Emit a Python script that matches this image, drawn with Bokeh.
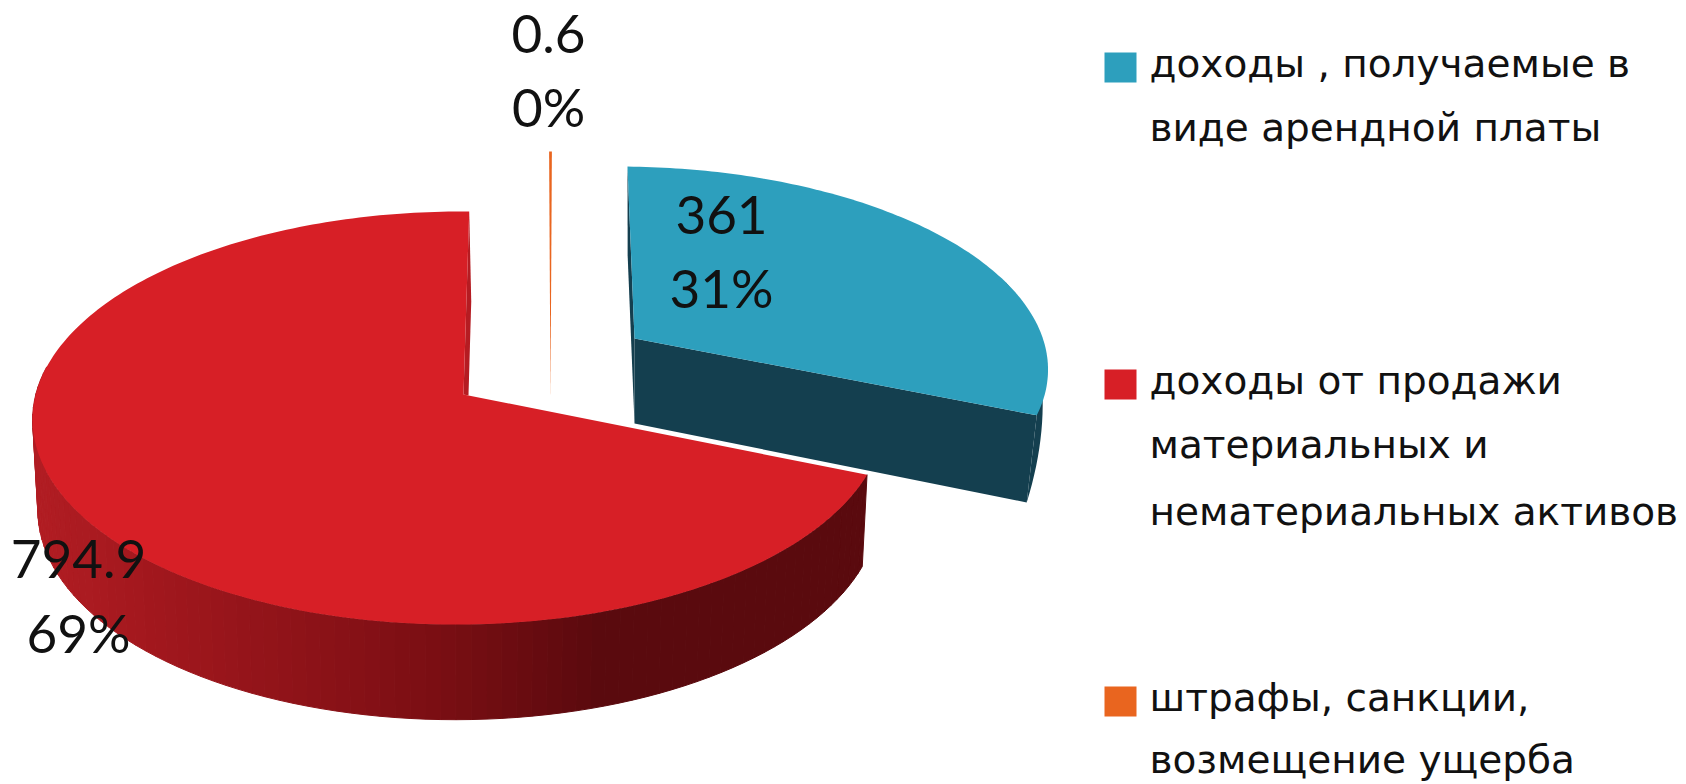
import numpy as np
from bokeh.plotting import figure
from bokeh.embed import file_html
from bokeh.resources import INLINE
from bokeh.core.properties import value

categories = ["доходы , получаемые в виде арендной платы",
              "доходы от продажи материальных и нематериальных активов",
              "штрафы, санкции, возмещение ущерба"]
values = [361, 794.9, 0.6]
percents = ["31%", "69%", "0%"]
value_labels = ["361", "794.9", "0.6"]
colors = ["#2d9fbd", "#d71f26", "#e9651f"]
legend_lines = [["доходы , получаемые в", "виде арендной платы"],
                ["доходы от продажи", "материальных и", "нематериальных активов"],
                ["штрафы, санкции,", "возмещение ущерба"]]

total = sum(values)
spans = np.array(values) / total * 2 * np.pi
starts = np.concatenate([[0], np.cumsum(spans)[:-1]])
ends = starts + spans


def proj(theta, g, s=1.0, dy=0.0, sy=1.0):
    u, v = np.sin(theta), -np.cos(theta)
    den = 1 - g["k"] * v - g["m"] * u
    X = g["x"] + s * (g["A"] * u + g["C"] * v) / den
    Y = g["y"] + dy + s * sy * g["B"] * v / den
    return X, Y


RED = dict(x=468, y=395, A=423.1, B=204, k=0.109, m=-0.0228, C=-2.2)
BLUE = dict(x=634, y=338, A=419, B=196, k=0.14, m=-0.026, C=8)
ORANGE = dict(x=550, y=399, A=424, B=248, k=0.0, m=0, C=0)

p = figure(width=1686, height=784, x_range=(0, 1686), y_range=(784, 0),
           output_backend="svg", toolbar_location=None, min_border=0,
           outline_line_color=None, background_fill_color="white")
p.axis.visible = False
p.grid.visible = False

# ---- red slice ----
th0, th1 = starts[1], ends[1]
wall_th = np.linspace(th0, np.radians(278), 90)
xs, ys, cs = [], [], []
stops_x = [30, 150, 430, 600, 900]
stops_c = np.array([[0xb3, 0x1e, 0x24], [0xa3, 0x18, 0x1e], [0x7c, 0x0f, 0x14], [0x5a, 0x0a, 0x0e], [0x5a, 0x0a, 0x0e]])
for a, b in zip(wall_th[:-1], wall_th[1:]):
    x1, y1 = proj(a, RED)
    x2, y2 = proj(b, RED)
    x3, y3 = proj(b, RED, 0.988, 90, 1.035)
    x4, y4 = proj(a, RED, 0.988, 90, 1.035)
    xs.append([x1, x2, x3, x4])
    ys.append([y1, y2, y3, y4])
    mx = (x3 + x4) / 2
    c = [int(np.interp(mx, stops_x, stops_c[:, i])) for i in range(3)]
    cs.append("#%02x%02x%02x" % tuple(c))
p.patches(xs, ys, fill_color=cs, line_color=cs, line_width=1)

tx, ty = proj(th1, RED)
p.patch([tx, tx + 2, RED["x"], RED["x"] - 5], [ty, ty + 90, RED["y"], RED["y"] - 1],
        fill_color="#b51c22", line_color=None)
arc = np.linspace(th0, th1, 240)
ax, ay = proj(arc, RED)
p.patch(np.r_[RED["x"], ax, RED["x"] - 5], np.r_[RED["y"], ay, RED["y"] - 1],
        fill_color=colors[1], line_color=None)

# ---- blue slice ----
bdark = "#143f4f"
th0, th1 = starts[0], ends[0]
t = np.linspace(0, 1, 30)
wall = np.radians(72) + t * (th1 - np.radians(72))
f = t ** 1.5
ox = np.array([proj(a, BLUE, 1 - 0.025 * q, 89 * q)[0] for a, q in zip(wall, f)])
oy = np.array([proj(a, BLUE, 1 - 0.025 * q, 89 * q)[1] for a, q in zip(wall, f)])
tipx, tipy = proj(th1, BLUE)
tipbx, tipby = proj(th1, BLUE, 0.975, 89, 1.0)
p.patch(np.r_[ox, tipx], np.r_[oy, tipy], fill_color=bdark, line_color=None)
p.patch([BLUE["x"], tipx, tipbx, BLUE["x"]], [BLUE["y"], tipy, tipby, BLUE["y"] + 85],
        fill_color=bdark, line_color=None)
lx, ly = proj(th0, BLUE)
lbx, lby = proj(th0, BLUE, 0.975, 85, 1.0)
p.patch([lx, lbx, BLUE["x"], BLUE["x"]], [ly, lby, BLUE["y"] + 85, BLUE["y"]],
        fill_color=bdark, line_color=None)
arc = np.linspace(th0, th1, 120)
ax, ay = proj(arc, BLUE)
p.patch(np.r_[BLUE["x"], ax], np.r_[BLUE["y"], ay], fill_color=colors[0], line_color=None)

# ---- orange sliver ----
arc = np.linspace(starts[2], ends[2] + spans[2], 4)
ax, ay = proj(arc, ORANGE)
p.patch(np.r_[ORANGE["x"], ax], np.r_[ORANGE["y"], ay], fill_color=colors[2], line_color=None)

# ---- data labels ----
font = value("Lato")
lab_x = [721, 78, 548]
lab_y1 = [214, 558, 33]
lab_y2 = [287, 632, 106]
p.text(x=lab_x, y=lab_y1, text=value_labels, text_align="center", text_baseline="middle",
       text_font=font, text_font_size="53px", text_color="#111111")
p.text(x=lab_x, y=lab_y2, text=percents, text_align="center", text_baseline="middle",
       text_font=font, text_font_size="53px", text_color="#111111")

# ---- legend ----
lfont = value("DejaVu Sans")
group_y = [[63, 127], [380, 444, 511], [697, 759]]
square_y = [65, 382, 699]
for col, lines, ypos, sy in zip(colors, legend_lines, group_y, square_y):
    p.quad(left=[1104], right=[1136], top=[sy - 13], bottom=[sy + 17], fill_color=col, line_color=None)
    p.text(x=[1149] * len(lines), y=ypos, text=lines, text_align="left", text_baseline="middle",
           text_font=lfont, text_font_size="39px", text_color="#111111")

open("out.html", "w").write(file_html(p, INLINE))
